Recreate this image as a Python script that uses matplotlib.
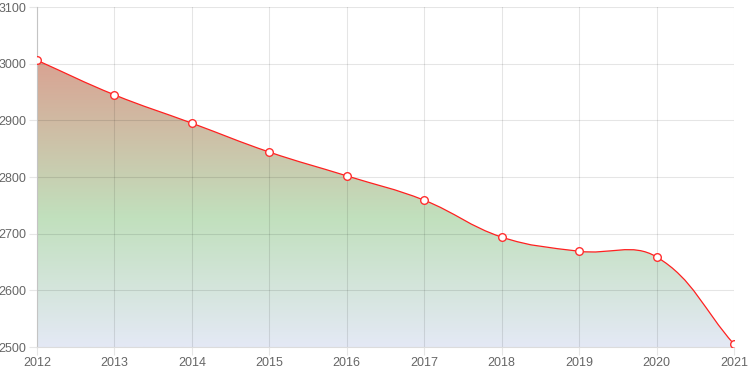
import numpy as np
import matplotlib
matplotlib.use("Agg")
import matplotlib.pyplot as plt
from matplotlib.path import Path
from matplotlib.patches import PathPatch
from matplotlib.colors import LinearSegmentedColormap

years = [2012, 2013, 2014, 2015, 2016, 2017, 2018, 2019, 2020, 2021]
values = [3006, 2945, 2895, 2844, 2802, 2759, 2694, 2669, 2659, 2505]
y_ticks = [2500, 2600, 2700, 2800, 2900, 3000, 3100]

plt.rcParams['font.family'] = ['Liberation Sans', 'DejaVu Sans']

fig = plt.figure(figsize=(7.5, 3.75), dpi=100)
ax = fig.add_axes([37/750, 1 - 347/375, (734-37)/750, (347-7)/375])
ax.set_xlim(2012, 2021)
ax.set_ylim(2500, 3100)
fig.canvas.draw()

# Chart.js-like spline (tension 0.4) computed in pixel space
pts = ax.transData.transform(np.column_stack([years, values]))
t = 0.4
n = len(pts)
cp_prev = np.zeros_like(pts)
cp_next = np.zeros_like(pts)
for i in range(n):
    p1 = pts[i]
    p0 = pts[i-1] if i > 0 else p1
    p2 = pts[i+1] if i < n-1 else p1
    d01 = np.hypot(*(p1-p0)); d12 = np.hypot(*(p2-p1))
    tot = d01 + d12
    s01 = d01/tot if tot else 0
    s12 = d12/tot if tot else 0
    cp_prev[i] = p1 - t*s01*(p2-p0)
    cp_next[i] = p1 + t*s12*(p2-p0)

verts = [pts[0]]
codes = [Path.MOVETO]
for i in range(n-1):
    verts += [cp_next[i], cp_prev[i+1], pts[i+1]]
    codes += [Path.CURVE4]*3
inv = ax.transData.inverted()
verts_d = inv.transform(np.array(verts))
line_path = Path(verts_d, codes)

samples = []
for i in range(n-1):
    P0, P1, P2, P3 = pts[i], cp_next[i], cp_prev[i+1], pts[i+1]
    for s in np.linspace(0, 1, 60, endpoint=(i == n-2)):
        b = (1-s)**3*P0 + 3*(1-s)**2*s*P1 + 3*(1-s)*s**2*P2 + s**3*P3
        samples.append(b)
samples = inv.transform(np.array(samples))
poly = np.vstack([samples, [[2021, 2500], [2012, 2500]]])
fill_path = Path(poly, closed=False)

cmap = LinearSegmentedColormap.from_list("g", [
    (0.0, (228/255, 233/255, 245/255)),
    (0.38, (193/255, 224/255, 189/255)),
    (0.9, (220/255, 155/255, 141/255)),
    (1.0, (224/255, 148/255, 133/255)),
])
grad = np.linspace(0, 1, 256).reshape(-1, 1)
im = ax.imshow(grad, cmap=cmap, origin="lower", aspect="auto",
               extent=[2012, 2021, 2500, 3100], zorder=1)
patch = PathPatch(fill_path, facecolor="none", edgecolor="none")
ax.add_patch(patch)
im.set_clip_path(patch)

ax.add_patch(PathPatch(line_path, facecolor="none", edgecolor="#ff2020", lw=0.9, zorder=3))
ax.plot(years, values, linestyle="none", marker="o", markersize=5.5,
        markerfacecolor="white", markeredgecolor="#ff3030", markeredgewidth=1.0, zorder=4)

ax.set_xlim(2012, 2021)
ax.set_ylim(2500, 3100)
ax.set_xticks(years)
ax.set_yticks(y_ticks)
for s in ["top", "right"]:
    ax.spines[s].set_visible(False)
ax.spines["left"].set_color("#c4c4c4")
ax.spines["bottom"].set_color("#dcdcdc")
ax.spines["left"].set_zorder(2.6)
ax.spines["bottom"].set_zorder(2.6)
ax.tick_params(axis="both", color="#e6e6e6", labelcolor="#666666",
               labelsize=9, length=6, width=0.8)
ax.tick_params(axis="y", pad=1.5)
ax.tick_params(axis="x", pad=1.5)
ax.set_axisbelow(False)
ax.grid(True, color="black", alpha=0.1, lw=0.8)
for gl in ax.get_xgridlines() + ax.get_ygridlines():
    gl.set_zorder(2)

fig.savefig("out.png", dpi=100)
